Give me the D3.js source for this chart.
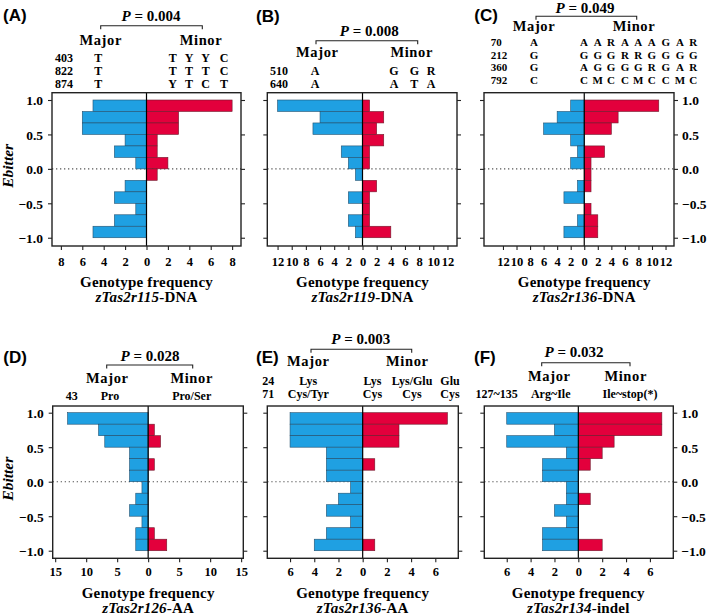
<!DOCTYPE html>
<html><head><meta charset="utf-8">
<script src="https://cdn.jsdelivr.net/npm/d3@7"></script>
<style>
html,body{margin:0;padding:0;background:#fff;}
svg{display:block;}
text{font-family:"Liberation Serif","Times New Roman",serif;font-weight:bold;fill:#000;}
</style></head><body>
<svg id="chart" width="709" height="616"></svg>
<script>
// ---- categories: Ebitter bins (top edge / bottom edge) ----
const binTop    = [1.0, 0.8333, 0.6667, 0.5, 0.3333, 0.1667, 0.0, -0.1667, -0.3333, -0.5, -0.6667, -0.8333];
const binBottom = [0.8333, 0.6667, 0.5, 0.3333, 0.1667, 0.0, -0.1667, -0.3333, -0.5, -0.6667, -0.8333, -1.0];

// ---- series: genotype frequency per bin ----
const majorA = [5, 6, 6, 2, 3, 1, 0, 2, 3, 1, 3, 5];
const minorA = [8, 3, 3, 1, 1, 2, 1, 0, 0, 0, 0, 0];
const majorB = [12, 6, 7, 0, 3, 2, 1, 0, 2, 0, 2, 1];
const minorB = [1, 3, 2, 3, 1, 1, 0, 2, 1, 1, 1, 4];
const majorC = [2, 4, 6, 2, 1, 2, 0, 1, 3, 0, 1, 3];
const minorC = [11, 5, 4, 0, 3, 1, 1, 1, 0, 1, 2, 2];
const majorD = [13, 8, 7, 3, 3, 3, 1, 2, 3, 1, 2, 2];
const minorD = [0, 1, 2, 0, 1, 0, 0, 0, 0, 0, 1, 3];
const majorE = [6, 6, 6, 3, 3, 3, 1, 2, 3, 1, 3, 4];
const minorE = [7, 3, 3, 0, 1, 0, 0, 0, 0, 0, 0, 1];
const majorF = [6, 2, 6, 1, 3, 3, 1, 1, 2, 1, 3, 3];
const minorF = [7, 7, 3, 2, 1, 0, 0, 1, 0, 0, 0, 2];

// ---- tick values ----
const yTicks = [-1, -0.5, 0, 0.5, 1];
const xTicksA = [-8, -6, -4, -2, 0, 2, 4, 6, 8];
const xTicksB = [-12, -10, -8, -6, -4, -2, 0, 2, 4, 6, 8, 10, 12];
const xTicksC = [-12, -10, -8, -6, -4, -2, 0, 2, 4, 6, 8, 10, 12];
const xTicksD = [-15, -10, -5, 0, 5, 10, 15];
const xTicksE = [-6, -4, -2, 0, 2, 4, 6];
const xTicksF = [-6, -4, -2, 0, 2, 4, 6];

// ---- header texts ----
const panelLetters = ["(A)", "(B)", "(C)", "(D)", "(E)", "(F)"];
const pValues = ["0.004", "0.008", "0.049", "0.028", "0.003", "0.032"];
const genes = ["zTas2r115", "zTas2r119", "zTas2r136", "zTas2r126", "zTas2r136", "zTas2r134"];
const geneSuffix = ["-DNA", "-DNA", "-DNA", "-AA", "-AA", "-indel"];
const sitesA = ["403", "822", "874"];
const majA = ["T", "T", "T"];
const minA = [["T", "Y", "Y", "C"], ["T", "T", "T", "C"], ["Y", "T", "C", "T"]];
const sitesB = ["510", "640"];
const majB = ["A", "A"];
const minB = [["G", "G", "R"], ["A", "T", "A"]];
const sitesC = ["70", "212", "360", "792"];
const majC = ["A", "G", "G", "C"];
const minC = [["A","A","R","A","A","A","G","A","R"],
              ["G","G","G","R","R","G","G","G","G"],
              ["A","G","G","G","G","R","G","A","R"],
              ["C","M","C","C","M","C","C","M","C"]];
const sitesD = ["43"];
const majD = ["Pro"];
const minD = [["Pro/Ser"]];
const sitesE = ["24", "71"];
const majE = ["Lys", "Cys/Tyr"];
const minE = [["Lys", "Lys/Glu", "Glu"], ["Cys", "Cys", "Cys"]];
const sitesF = ["127~135"];
const majF = ["Arg~Ile"];
const minF = [["Ile~stop(*)"]];

// ---- styles ----
const BLUE = "#1fa0e2";
const RED = "#e3003c";
const svg = d3.select("#chart");

const topRow = {fy0: 92.7, fy1: 246, yDom: [-1.12, 1.106], tickBase: 266, t1: 286.5, t2: 301.5};
const botRow = {fy0: 406, fy1: 558.3, yDom: [-1.11, 1.097], tickBase: 576, t1: 598, t2: 613};

const panels = [
  {i:0, row: topRow, fx0: 52, fx1: 241, xDom: [-8.83, 8.83], xTicks: xTicksA, major: majorA, minor: minorA,
   yLeftLabels: true, yRightLabels: false,
   lab: [3, 21], p: [151, 21], br: [100.7, 202.3, 25.7], mm: [100.7, 201, 45],
   rows: [62, 74.5, 88], rowFont: 12, siteX: 55, siteAnchor: "start", majX: [98.3], minX: [172.7, 189, 205.7, 224],
   sites: sitesA, maj: majA, min: minA},
  {i:1, row: topRow, fx0: 267.3, fx1: 457, xDom: [-13.45, 13.35], xTicks: xTicksB, major: majorB, minor: minorB,
   yLeftLabels: false, yRightLabels: false,
   lab: [256, 22], p: [369.3, 36], br: [316, 417.7, 40.7], mm: [317.3, 411.7, 57],
   rows: [74.5, 88], rowFont: 12, siteX: 270, siteAnchor: "start", majX: [315], minX: [394, 414.3, 431],
   sites: sitesB, maj: majB, min: minB},
  {i:2, row: topRow, fx0: 484, fx1: 674, xDom: [-14.8, 13.25], xTicks: xTicksC, major: majorC, minor: minorC,
   yLeftLabels: false, yRightLabels: true,
   lab: [474.3, 21], p: [585, 13], br: [536, 636.7, 16.3], mm: [534, 634, 31],
   rows: [46, 58.5, 71, 83.5], rowFont: 11, siteX: 490.7, siteAnchor: "start", majX: [534],
   minX: [584, 597.7, 611, 625, 638.3, 651.7, 665.7, 680, 693.3],
   sites: sitesC, maj: majC, min: minC},
  {i:3, row: botRow, fx0: 52.7, fx1: 243.3, xDom: [-15.4, 15.35], xTicks: xTicksD, major: majorD, minor: minorD,
   yLeftLabels: true, yRightLabels: false,
   lab: [3.3, 362.5], p: [150, 361], br: [106.7, 192.7, 365], mm: [107.3, 191.7, 383],
   rows: [400], rowFont: 12, siteX: 71.7, siteAnchor: "middle", majX: [110], minX: [191.7],
   sites: sitesD, maj: majD, min: minD},
  {i:4, row: botRow, fx0: 267.3, fx1: 458.3, xDom: [-7.88, 7.9], xTicks: xTicksE, major: majorE, minor: minorE,
   yLeftLabels: false, yRightLabels: false,
   lab: [256, 362.5], p: [360.7, 344], br: [311, 411.7, 349.3], mm: [308.3, 407.3, 366],
   rows: [385, 398], rowFont: 12, siteX: 268.3, siteAnchor: "middle", majX: [308.3], minX: [372.5, 412, 450],
   sites: sitesE, maj: majE, min: minE},
  {i:5, row: botRow, fx0: 484.3, fx1: 673.3, xDom: [-7.88, 7.96], xTicks: xTicksF, major: majorF, minor: minorF,
   yLeftLabels: false, yRightLabels: true,
   lab: [474, 362.5], p: [574, 357], br: [541.7, 630, 362.7], mm: [549.3, 625.7, 381],
   rows: [398], rowFont: 12, siteX: 496.7, siteAnchor: "middle", majX: [550.7], minX: [630],
   sites: sitesF, maj: majF, min: minF}
];

const yFmt = d => (d < 0 ? "\u2212" : "") + Math.abs(d).toFixed(1);
const xFmt = d => String(Math.abs(d));

function drawPanel(p) {
  const R = p.row;
  const x = d3.scaleLinear().domain(p.xDom).range([p.fx0, p.fx1]);
  const y = d3.scaleLinear().domain(R.yDom).range([R.fy1, R.fy0]);
  const g = svg.append("g");

  // dotted zero line
  g.append("line").attr("x1", p.fx0).attr("x2", p.fx1).attr("y1", y(0)).attr("y2", y(0))
    .attr("stroke", "#555").attr("stroke-width", 1.1).attr("stroke-dasharray", "1.3,2.7");

  const rows = binTop.map((t, k) => ({top: t, bot: binBottom[k], maj: p.major[k], min: p.minor[k]}));
  g.selectAll("rect.maj").data(rows.filter(d => d.maj > 0)).join("rect").attr("class", "maj")
    .attr("x", d => x(-d.maj)).attr("width", d => x(0) - x(-d.maj))
    .attr("y", d => y(d.top)).attr("height", d => y(d.bot) - y(d.top))
    .attr("fill", BLUE).attr("stroke", "#24506e").attr("stroke-width", 0.6);
  g.selectAll("rect.min").data(rows.filter(d => d.min > 0)).join("rect").attr("class", "min")
    .attr("x", x(0)).attr("width", d => x(d.min) - x(0))
    .attr("y", d => y(d.top)).attr("height", d => y(d.bot) - y(d.top))
    .attr("fill", RED).attr("stroke", "#6e1a2c").attr("stroke-width", 0.6);

  // vertical zero line
  g.append("line").attr("x1", x(0)).attr("x2", x(0)).attr("y1", R.fy0).attr("y2", R.fy1)
    .attr("stroke", "#000").attr("stroke-width", 1.2);
  // frame
  g.append("rect").attr("x", p.fx0).attr("y", R.fy0).attr("width", p.fx1 - p.fx0).attr("height", R.fy1 - R.fy0)
    .attr("fill", "none").attr("stroke", "#222").attr("stroke-width", 1.4);

  // axes
  const ax = g.append("g").attr("transform", `translate(0,${R.fy1})`)
    .call(d3.axisBottom(x).tickValues(p.xTicks).tickFormat(xFmt).tickSize(4).tickPadding(5));
  ax.select(".domain").remove();
  ax.selectAll("text").attr("font-size", 12.5).attr("y", null).attr("dy", null)
    .attr("transform", `translate(0,${R.tickBase - R.fy1})`);
  const axL = g.append("g").attr("transform", `translate(${p.fx0},0)`)
    .call(d3.axisLeft(y).tickValues(yTicks).tickFormat(p.yLeftLabels ? yFmt : "").tickSize(4).tickPadding(5));
  axL.select(".domain").remove();
  axL.selectAll("text").attr("font-size", 13.5).attr("dy", "0.36em");
  const axR = g.append("g").attr("transform", `translate(${p.fx1},0)`)
    .call(d3.axisRight(y).tickValues(yTicks).tickFormat(p.yRightLabels ? yFmt : "").tickSize(4).tickPadding(4));
  axR.select(".domain").remove();
  axR.selectAll("text").attr("font-size", 13.5).attr("dy", "0.36em");
  g.selectAll(".tick line").attr("stroke", "#222").attr("stroke-width", 1.1);

  // x-axis titles
  g.append("text").attr("x", x(0)).attr("y", R.t1).attr("text-anchor", "middle")
    .attr("font-size", 15).attr("letter-spacing", 0.2).text("Genotype frequency");
  const t2 = g.append("text").attr("x", x(0)).attr("y", R.t2).attr("text-anchor", "middle")
    .attr("font-size", 15).attr("letter-spacing", 0.2);
  t2.append("tspan").attr("font-style", "italic").text(genes[p.i]);
  t2.append("tspan").text(geneSuffix[p.i]);

  // panel letter
  g.append("text").attr("x", p.lab[0]).attr("y", p.lab[1]).attr("font-size", 17)
    .style("font-family", "'Liberation Sans', Arial, sans-serif").text(panelLetters[p.i]);

  // P value
  const pt = g.append("text").attr("x", p.p[0]).attr("y", p.p[1]).attr("text-anchor", "middle").attr("font-size", 15);
  pt.append("tspan").attr("font-style", "italic").text("P");
  pt.append("tspan").text(" = " + pValues[p.i]);

  // bracket
  const [bx0, bx1, by] = p.br;
  g.append("path").attr("d", `M${bx0},${by + 3.5}V${by}H${bx1}V${by + 3.5}`)
    .attr("fill", "none").attr("stroke", "#222").attr("stroke-width", 1.1);

  // Major / Minor
  g.append("text").attr("x", p.mm[0]).attr("y", p.mm[2]).attr("text-anchor", "middle")
    .attr("font-size", 14.5).attr("letter-spacing", 0.6).text("Major");
  g.append("text").attr("x", p.mm[1]).attr("y", p.mm[2]).attr("text-anchor", "middle")
    .attr("font-size", 14.5).attr("letter-spacing", 0.6).text("Minor");

  // site rows
  p.rows.forEach((yb, r) => {
    g.append("text").attr("x", p.siteX).attr("y", yb).attr("text-anchor", p.siteAnchor)
      .attr("font-size", p.rowFont).text(p.sites[r]);
    g.append("text").attr("x", p.majX[0]).attr("y", yb).attr("text-anchor", "middle")
      .attr("font-size", p.rowFont).text(p.maj[r]);
    p.min[r].forEach((s, c) => {
      g.append("text").attr("x", p.minX[c]).attr("y", yb).attr("text-anchor", "middle")
        .attr("font-size", p.rowFont).text(s);
    });
  });

  // y-axis title
  if (p.yLeftLabels) {
    const cy = (y(1) + y(-1)) / 2 - 3;
    g.append("text").attr("transform", `translate(13,${cy}) rotate(-90)`).attr("text-anchor", "middle")
      .attr("font-size", 15.5).attr("font-style", "italic").text("Ebitter");
  }
}

panels.forEach(drawPanel);
</script>
</body></html>
